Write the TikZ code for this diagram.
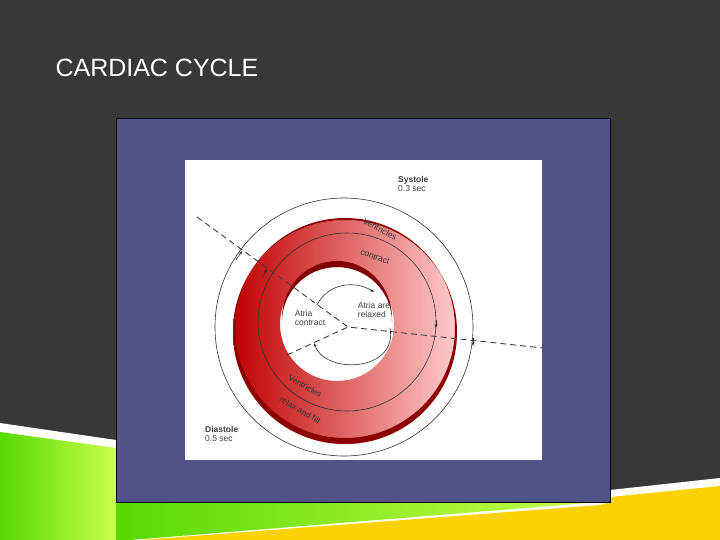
\documentclass[tikz,border=0pt]{standalone}
\usepackage{fontspec}
\setmainfont{Liberation Sans}
\usetikzlibrary{arrows.meta}
\begin{document}
\begin{tikzpicture}[x=1pt,y=-1pt,
  lbl/.style={font=\fontsize{8.5}{9.5}\selectfont, text=black!75, align=left, inner sep=0pt},
  rl/.style={font=\fontsize{8.5}{9.5}\selectfont, text=black!80, inner sep=0pt},
  ring/.style={draw=black!80, line width=0.6pt},
  arr/.style={-{Stealth[length=4pt,width=3pt]}, draw=black!80, line width=0.6pt},
  dashln/.style={dash pattern=on 6pt off 4pt, draw=black!75, line width=0.9pt}]
\useasboundingbox (0,0) rectangle (720,540);
\fill[black!78] (0,0) rectangle (720,540);
% bottom bands
\fill[white] (0,423) -- (116,440) -- (116,540) -- (0,540) -- cycle;
\shade[left color=green!60!yellow!85!black, right color=green!30!yellow!70] (0,432) -- (116,448) -- (116,540) -- (0,540) -- cycle;
\fill[white] (610,490) -- (720,478) -- (720,540) -- (116,540) -- (116,502) -- (610,502) -- cycle;
\shade[left color=green!60!yellow!85!black, right color=green!30!yellow!70] (116,502) -- (600,502) -- (130,540) -- (116,540) -- cycle;
\fill[yellow!70!orange] (610,497) -- (720,486) -- (720,540) -- (140,540) -- (600,505) -- (610,502) -- cycle;
\node[anchor=west, text=white, font=\fontsize{25}{28}\selectfont] (title) at (52,68) {CARDIAC CYCLE};
% blue box and panel
\fill[fill={rgb,255:red,82;green,82;blue,138}, draw=black] (116,118) rectangle (610,502);
\fill[white] (185,160) rectangle (542,460);
% red ring
\shade[left color=red!75!black, right color=red!20, even odd rule]
  (345,332) circle[radius=112] (337,324) circle[radius=57];
\fill[red!55!black, even odd rule] (345,332) circle[radius=112] (345,328) circle[radius=110];
\fill[red!50!black] (282,318) arc[start angle=180,end angle=360,x radius=55,y radius=57] -- (392,322) arc[start angle=0,end angle=-180,radius=55] -- cycle;
% circles
\draw[ring] (344,327) circle[radius=129];
\draw[ring] (347,322) circle[radius=89];
\draw[arr] (236,260) -- +(6,-9);
\draw[arr] (473,338) -- +(0,8);
\draw[arr] (262,278) -- +(5,-9);
\draw[arr] (436,320) -- +(0,8);
% inner cycle arrows
\coordinate (t1) at (317,305);
\coordinate (t2) at (374,292);
\coordinate (b1) at (390,328);
\coordinate (b2) at (314,343);
\draw[arr] (t1) .. controls (328,283) and (355,280) .. (t2);
\draw[arr] (b1) .. controls (398,372) and (325,375) .. (b2);
% dashed lines
\coordinate (c) at (348,327);
\coordinate (d1) at (197,217);
\coordinate (d2) at (543,348);
\coordinate (d3) at (287,355);
\draw[dashln] (d1) -- (c) -- (d2);
\draw[dashln] (d3) -- (c);
% labels
\node[lbl, anchor=west] (sys) at (398,184) {\textbf{Systole}\\0.3 sec};
\node[lbl, anchor=west] (dia) at (205,434) {\textbf{Diastole}\\0.5 sec};
\node[lbl] (ac) at (310,318) {Atria\\contract};
\node[lbl] (ar) at (374,310) {Atria are\\relaxed};
\node[rl, rotate=-28] (vc1) at (380,229) {Ventricles};
\node[rl, rotate=-20] (vc2) at (375,257) {contract};
\node[rl, rotate=-30] (vr1) at (305,386) {Ventricles};
\node[rl, rotate=-30] (vr2) at (300,410) {relax and fill};
\end{tikzpicture}
\end{document}
